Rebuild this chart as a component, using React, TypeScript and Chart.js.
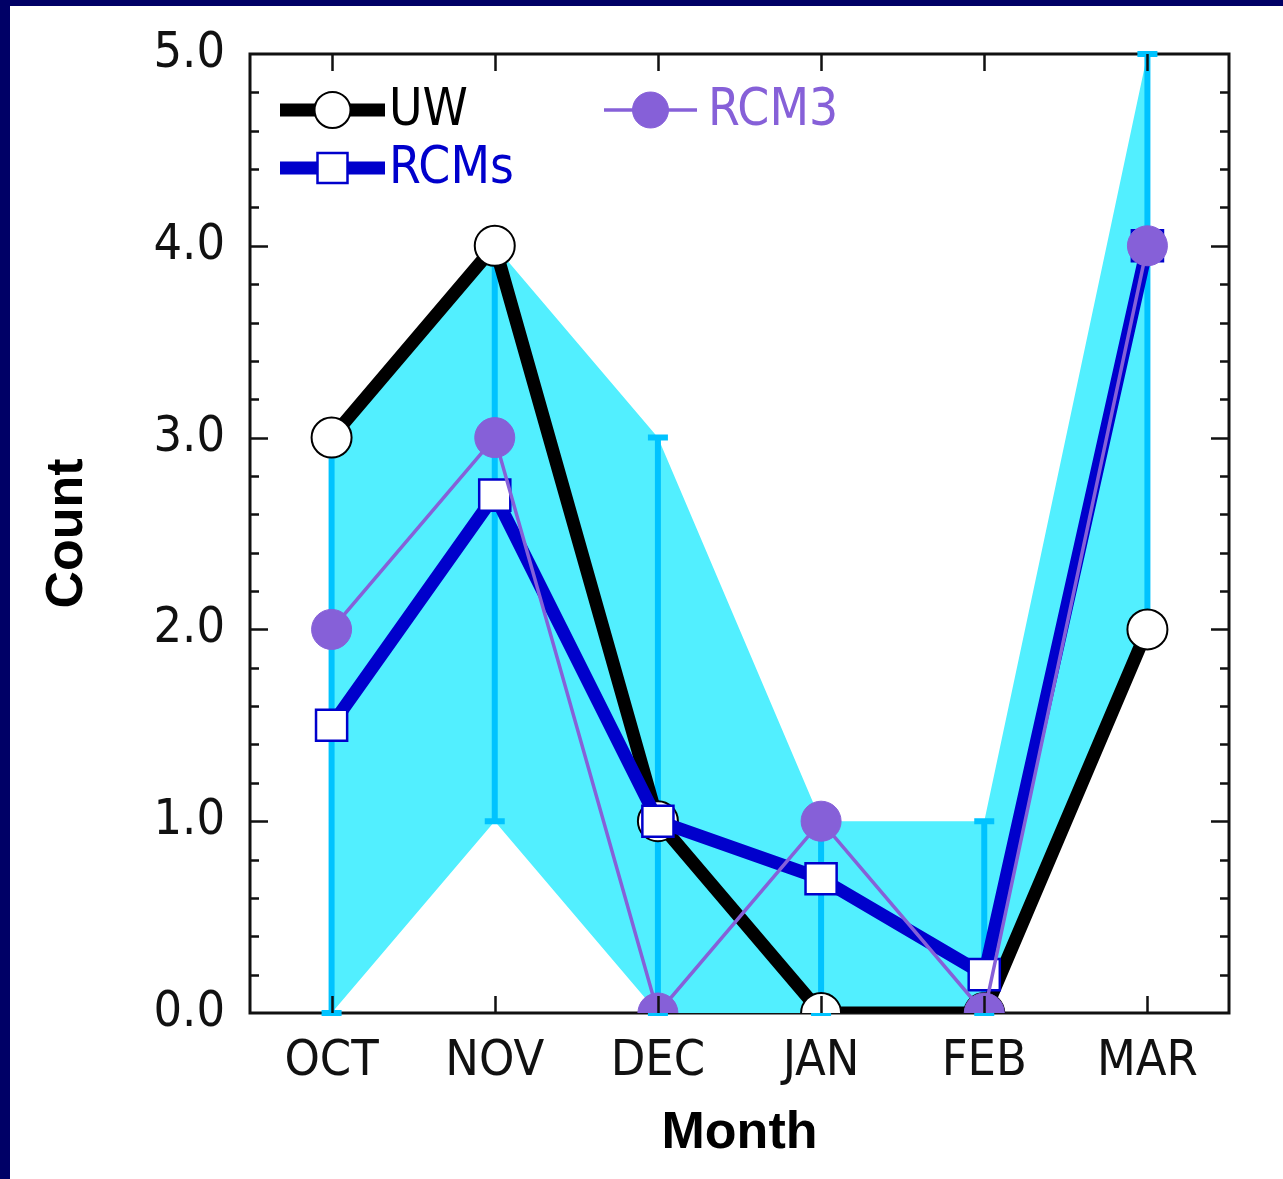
import React, { useEffect, useRef } from "react";
import { Chart, registerables } from "chart.js";

Chart.register(...registerables);

// ---- data ----
const months = ["OCT", "NOV", "DEC", "JAN", "FEB", "MAR"];
const uwCounts = [3, 4, 1, 0, 0, 2];
const rcmsMean = [1.5, 2.7, 1.0, 0.7, 0.2, 4.0];
const rcm3Counts = [2, 3, 0, 1, 0, 4];
const rangeMax = [3, 4, 3, 1, 1, 5];
const rangeMin = [0, 1, 0, 0, 0, 2];
const yMin = 0;
const yMax = 5;
const yMinorStep = 0.2;

// ---- styles ----
const NAVY = "#000066";
const BLACK = "#000000";
const BLUE = "#0000cc";
const PURPLE = "#8660d8";
const BAND = "#52efff";
const BAR = "#00c3ff";
const TICK_FONT = '"DejaVu Sans Condensed", "DejaVu Sans", sans-serif';
const TITLE_FONT = '"Liberation Sans", Arial, sans-serif';

const frameTicksPlugin = {
  id: "frameTicks",
  beforeDatasetsDraw(chart: any) {
    const { ctx, chartArea: a } = chart;
    ctx.save();
    ctx.strokeStyle = "#111";
    ctx.lineWidth = 3;
    ctx.strokeRect(a.left, a.top, a.right - a.left, a.bottom - a.top);
    ctx.restore();
  },
  afterDatasetsDraw(chart: any) {
    const { ctx, chartArea: a, scales } = chart;
    const y = scales.y;
    const x = scales.x;
    ctx.save();
    ctx.strokeStyle = "#111";
    ctx.lineWidth = 2.5;
    ctx.beginPath();
    const n = Math.round((yMax - yMin) / yMinorStep);
    for (let i = 1; i < n; i++) {
      const v = yMin + i * yMinorStep;
      const major = Math.abs(v - Math.round(v)) < 1e-6;
      const len = major ? 18 : 9;
      const py = Math.round(y.getPixelForValue(v)) + 0.5;
      ctx.moveTo(a.left, py);
      ctx.lineTo(a.left + len, py);
      ctx.moveTo(a.right, py);
      ctx.lineTo(a.right - len, py);
    }
    months.forEach((_, i) => {
      const px = Math.round(x.getPixelForValue(i)) + 0.5;
      ctx.moveTo(px, a.bottom);
      ctx.lineTo(px, a.bottom - 17);
      ctx.moveTo(px, a.top);
      ctx.lineTo(px, a.top + 17);
    });
    ctx.stroke();
    ctx.restore();
  },
};

const errorBarPlugin = {
  id: "rangeBars",
  afterDatasetDraw(chart: any, args: any) {
    if (args.index !== 3) return;
    const { ctx, scales } = chart;
    const x = scales.x;
    const y = scales.y;
    ctx.save();
    ctx.strokeStyle = BAR;
    ctx.lineWidth = 6;
    ctx.beginPath();
    months.forEach((_, i) => {
      const px = x.getPixelForValue(i);
      const top = y.getPixelForValue(rangeMax[i]);
      const bot = y.getPixelForValue(rangeMin[i]);
      ctx.moveTo(px, top);
      ctx.lineTo(px, bot);
      ctx.moveTo(px - 10, top);
      ctx.lineTo(px + 10, top);
      ctx.moveTo(px - 10, bot);
      ctx.lineTo(px + 10, bot);
    });
    ctx.stroke();
    ctx.restore();
  },
};

const legendPlugin = {
  id: "customLegend",
  afterDraw(chart: any) {
    const { ctx, chartArea: a } = chart;
    const items = [
      { ds: 0, col: 0, row: 0, len: 105, gap: 4 },
      { ds: 1, col: 0, row: 1, len: 105, gap: 4 },
      { ds: 2, col: 1, row: 0, len: 93, gap: 11 },
    ];
    ctx.save();
    ctx.font = `51px ${TICK_FONT}`;
    ctx.textBaseline = "middle";
    ctx.textAlign = "left";
    items.forEach((it) => {
      const d = chart.data.datasets[it.ds];
      const x0 = a.left + 30 + it.col * 324;
      const yy = a.top + 56 + it.row * 58;
      const x1 = x0 + it.len;
      const xc = (x0 + x1) / 2;
      ctx.strokeStyle = d.borderColor;
      ctx.lineWidth = d.borderWidth;
      ctx.beginPath();
      ctx.moveTo(x0, yy);
      ctx.lineTo(x1, yy);
      ctx.stroke();
      ctx.fillStyle = d.pointBackgroundColor;
      ctx.strokeStyle = d.pointBorderColor;
      ctx.lineWidth = d.pointBorderWidth;
      ctx.beginPath();
      if (d.pointStyle === "rect") {
        ctx.rect(xc - 15, yy - 15, 30, 30);
      } else {
        ctx.arc(xc, yy, 18, 0, Math.PI * 2);
      }
      ctx.fill();
      ctx.stroke();
      ctx.fillStyle = d.borderColor;
      ctx.fillText(d.label, x1 + it.gap, yy + 2);
    });
    ctx.restore();
  },
};

export default function App() {
  const ref = useRef<HTMLCanvasElement | null>(null);

  useEffect(() => {
    if (!ref.current) return;
    const chart = new Chart(ref.current, {
      type: "line",
      data: {
        labels: months,
        datasets: [
          {
            label: "UW",
            data: uwCounts,
            borderColor: BLACK,
            borderWidth: 13,
            borderJoinStyle: "round",
            pointStyle: "circle",
            pointRadius: 20,
            pointBackgroundColor: "#ffffff",
            pointBorderColor: BLACK,
            pointBorderWidth: 2,
            order: 2,
            fill: false,
          },
          {
            label: "RCMs",
            data: rcmsMean,
            borderColor: BLUE,
            borderWidth: 13,
            borderJoinStyle: "round",
            pointStyle: "rect",
            pointRadius: 22,
            pointBackgroundColor: "#ffffff",
            pointBorderColor: BLUE,
            pointBorderWidth: 2.5,
            order: 1,
            fill: false,
          },
          {
            label: "RCM3",
            data: rcm3Counts,
            borderColor: PURPLE,
            borderWidth: 3.5,
            pointStyle: "circle",
            pointRadius: 20,
            pointBackgroundColor: PURPLE,
            pointBorderColor: PURPLE,
            pointBorderWidth: 1,
            order: 0,
            fill: false,
          },
          {
            label: "max",
            data: rangeMax,
            borderWidth: 0,
            borderColor: "rgba(0,0,0,0)",
            pointRadius: 0,
            backgroundColor: BAND,
            fill: "+1",
            order: 3,
          },
          {
            label: "min",
            data: rangeMin,
            borderWidth: 0,
            borderColor: "rgba(0,0,0,0)",
            pointRadius: 0,
            fill: false,
            order: 4,
          },
        ] as any,
      },
      options: {
        responsive: false,
        animation: false,
        devicePixelRatio: 1,
        layout: { padding: { left: 0, top: 48, right: 54, bottom: 0 } },
        plugins: {
          legend: { display: false },
          tooltip: { enabled: false },
          title: { display: false },
        },
        elements: { line: { tension: 0 } },
        scales: {
          x: {
            type: "category",
            offset: true,
            grid: { display: false, drawTicks: false },
            border: { display: false },
            ticks: {
              color: "#111",
              font: { size: 50, family: TICK_FONT },
              padding: 19,
              maxRotation: 0,
              autoSkip: false,
            },
            title: {
              display: true,
              text: "Month",
              color: "#000",
              font: { size: 52, weight: "bold", family: TITLE_FONT },
              padding: { top: 0, bottom: 14 },
            },
            afterFit(scale: any) {
              scale.height = 166;
            },
          },
          y: {
            min: yMin,
            max: yMax,
            grid: { display: false, drawTicks: false },
            border: { display: false },
            ticks: {
              stepSize: 1,
              color: "#111",
              font: { size: 50, family: TICK_FONT, lineHeight: 0.6 },
              padding: 25,
              callback: (v: any) => Number(v).toFixed(1),
            },
            title: {
              display: true,
              text: "Count",
              color: "#000",
              font: { size: 52, weight: "bold", family: TITLE_FONT },
              padding: { top: 26, bottom: 0 },
            },
            afterFit(scale: any) {
              scale.width = 240;
            },
          },
        },
      } as any,
      plugins: [frameTicksPlugin, errorBarPlugin, legendPlugin],
    });
    return () => chart.destroy();
  }, []);

  return (
    <div
      style={{
        position: "fixed",
        left: 0,
        top: 0,
        width: 1283,
        height: 1179,
        background: NAVY,
        overflow: "hidden",
      }}
    >
      <div
        style={{
          position: "absolute",
          left: 10,
          top: 6,
          width: 1273,
          height: 1173,
          background: "#ffffff",
        }}
      >
        <canvas ref={ref} width={1273} height={1173} style={{ display: "block" }} />
      </div>
    </div>
  );
}
